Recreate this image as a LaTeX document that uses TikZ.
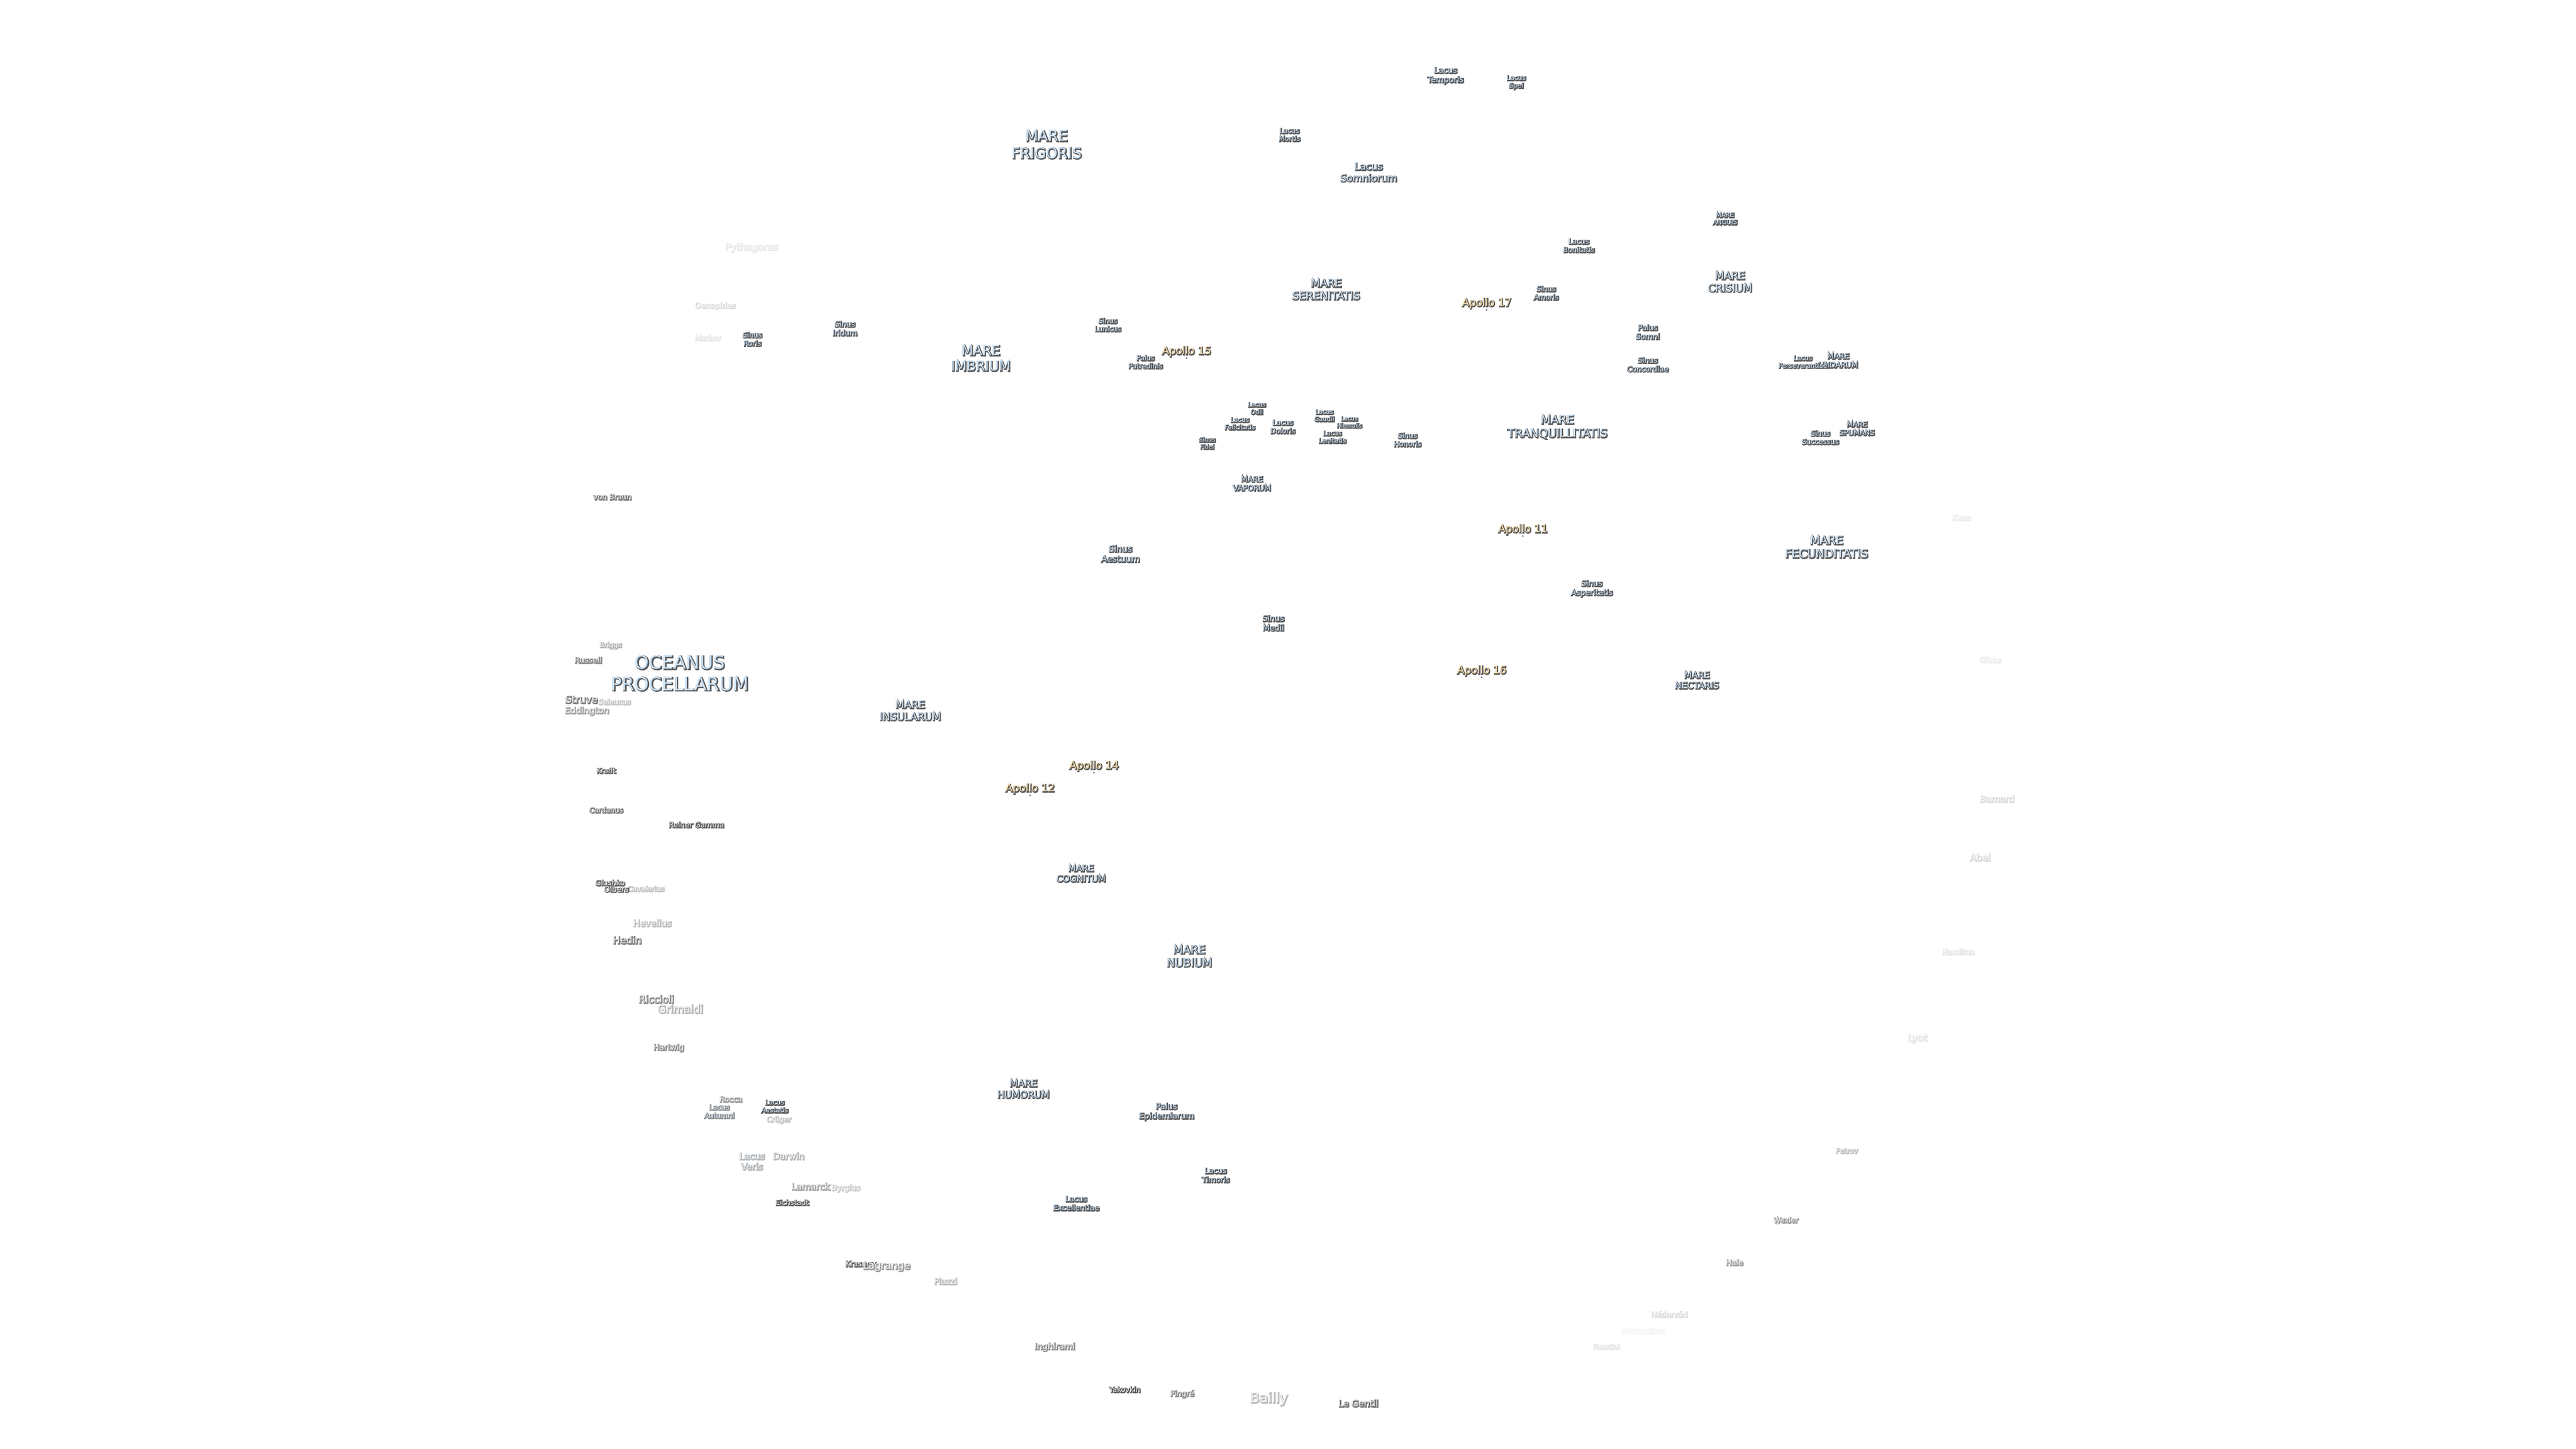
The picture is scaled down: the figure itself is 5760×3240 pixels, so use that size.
\documentclass[tikz,border=0pt]{standalone}
\usepackage{xcolor}
\definecolor{fillblue}{HTML}{CDE4FA}
\definecolor{fillamber}{HTML}{FCE0AC}
\definecolor{fillgrey}{HTML}{EAEAEA}
\definecolor{halo}{HTML}{5C5C5C}
\tikzset{
  lbshadow/.style={inner sep=0pt,align=center,xshift=.3pt,yshift=-.3pt},
  lbface/.style={inner sep=0pt,align=center},
  apollodot/.style={circle,fill=halo!80!white,inner sep=0pt,minimum size=1.1pt}
}
% \lb{fill colour}{name}{x}{y}{em px}{strength %}{text}
\newcommand{\lb}[7]{%
  \pgfmathsetmacro{\lbsize}{#5*0.25}%
  \pgfmathsetmacro{\lbleading}{#5*0.25*1.164}%
  \pgfmathsetmacro{\lbbold}{100*3.0/#5}%
  \font\lbplain="DejaVu Sans" at \lbsize pt
  \font\lbheavy="DejaVu Sans:embolden=\lbbold" at \lbsize pt
  \node[lbshadow,text={halo!#6!white},font={\lbheavy\baselineskip=\lbleading pt\relax}] (#2s) at (#3,#4) {#7};
  \node[lbface,text={#1!#6!white},font={\lbplain\baselineskip=\lbleading pt\relax}] (#2) at (#3,#4) {#7};
}
\begin{document}
\begin{tikzpicture}[x=.25pt,y=-.25pt]
\fill[white] (0,0) rectangle (5760,3240);
\useasboundingbox (0,0) rectangle (5760,3240);
% seas
\lb{fillblue}{oceanus}{1520}{1505}{41}{100}{OCEANUS\\PROCELLARUM}
\lb{fillblue}{frigoris}{2340}{323}{33}{100}{MARE\\FRIGORIS}
\lb{fillblue}{imbrium}{2193}{801}{30}{100}{MARE\\IMBRIUM}
\lb{fillblue}{serenitatis}{2965}{647}{24}{100}{MARE\\SERENITATIS}
\lb{fillblue}{tranq}{3482}{955}{26}{100}{MARE\\TRANQUILLITATIS}
\lb{fillblue}{fecund}{4084}{1223}{26}{100}{MARE\\FECUNDITATIS}
\lb{fillblue}{crisium}{3868}{630}{23.5}{100}{MARE\\CRISIUM}
\lb{fillblue}{anguis}{3857}{489}{14}{100}{MARE\\ANGUIS}
\lb{fillblue}{undarum}{4110}{806}{17}{100}{MARE\\UNDARUM}
\lb{fillblue}{spumans}{4152}{958}{16}{100}{MARE\\SPUMANS}
\lb{fillblue}{vaporum}{2799}{1081}{17}{100}{MARE\\VAPORUM}
\lb{fillblue}{nectaris}{3794}{1521}{20}{100}{MARE\\NECTARIS}
\lb{fillblue}{insularum}{2035}{1589}{23}{100}{MARE\\INSULARUM}
\lb{fillblue}{cognitum}{2417}{1953}{20}{100}{MARE\\COGNITUM}
\lb{fillblue}{nubium}{2659}{2138}{25}{100}{MARE\\NUBIUM}
\lb{fillblue}{humorum}{2288}{2435}{21.5}{100}{MARE\\HUMORUM}
% lacus, sinus, palus
\lb{fillblue}{temporis}{3232}{169}{18}{100}{Lacus\\Temporis}
\lb{fillblue}{spei}{3390}{184}{15}{100}{Lacus\\Spei}
\lb{fillblue}{mortis}{2883}{301}{15.5}{100}{Lacus\\Mortis}
\lb{fillblue}{somniorum}{3060}{385}{22}{100}{Lacus\\Somniorum}
\lb{fillblue}{bonitatis}{3530}{549}{16}{100}{Lacus\\Bonitatis}
\lb{fillblue}{amoris}{3457}{655}{16}{100}{Sinus\\Amoris}
\lb{fillblue}{somni}{3684}{742}{17}{100}{Palus\\Somni}
\lb{fillblue}{concordiae}{3684}{815}{16.5}{100}{Sinus\\Concordiae}
\lb{fillblue}{persev}{4031}{809}{14.5}{100}{Lacus\\Perseverantiae}
\lb{fillblue}{successus}{4070}{978}{16}{100}{Sinus\\Successus}
\lb{fillblue}{iridum}{1889}{734}{17}{100}{Sinus\\Iridum}
\lb{fillblue}{roris}{1682}{758}{16}{100}{Sinus\\Roris}
\lb{fillblue}{lunicus}{2477}{726}{15.5}{100}{Sinus\\Lunicus}
\lb{fillblue}{putredinis}{2561}{809}{15.5}{100}{Palus\\Putredinis}
\lb{fillblue}{odii}{2810}{913}{14}{100}{Lacus\\Odii}
\lb{fillblue}{felicitatis}{2772}{947}{14.5}{100}{Lacus\\Felicitatis}
\lb{fillblue}{doloris}{2868}{954}{16}{100}{Lacus\\Doloris}
\lb{fillblue}{gaudii}{2961}{929}{14}{100}{Lacus\\Gaudii}
\lb{fillblue}{hiemalis}{3017}{944}{13}{100}{Lacus\\Hiemalis}
\lb{fillblue}{lenitatis}{2979}{977}{14.5}{100}{Lacus\\Lenitatis}
\lb{fillblue}{fidei}{2699}{991}{13.5}{100}{Sinus\\Fidei}
\lb{fillblue}{honoris}{3147}{983}{16}{100}{Sinus\\Honoris}
\lb{fillblue}{aestuum}{2505}{1238}{19.5}{100}{Sinus\\Aestuum}
\lb{fillblue}{asperitatis}{3559}{1316}{17.5}{100}{Sinus\\Asperitatis}
\lb{fillblue}{medii}{2847}{1393}{18}{100}{Sinus\\Medii}
\lb{fillblue}{epidemiarum}{2608}{2486}{18.5}{100}{Palus\\Epidemiarum}
\lb{fillblue}{timoris}{2718}{2628}{17}{100}{Lacus\\Timoris}
\lb{fillblue}{excellentiae}{2406}{2691}{17}{100}{Lacus\\Excellentiae}
\lb{fillblue}{aestatis}{1732}{2474}{15}{100}{Lacus\\Aestatis}
\lb{fillblue}{autumni}{1608}{2485}{16}{70}{Lacus\\Autumni}
\lb{fillblue}{veris}{1681}{2597}{20}{45}{Lacus\\Veris}
% landing sites
\lb{fillamber}{apolloXV}{2653}{786}{23.5}{100}{Apollo 15}
\lb{fillamber}{apolloXVII}{3324}{678}{23.5}{100}{Apollo 17}
\lb{fillamber}{apolloXI}{3405}{1184}{23.5}{100}{Apollo 11}
\lb{fillamber}{apolloXVI}{3313}{1500}{23.5}{100}{Apollo 16}
\lb{fillamber}{apolloXIV}{2446}{1713}{23.5}{100}{Apollo 14}
\lb{fillamber}{apolloXII}{2303}{1764}{23.5}{100}{Apollo 12}
\node[apollodot] (dotXV) at (2653,801) {};
\node[apollodot] (dotXVII) at (3324,693) {};
\node[apollodot] (dotXI) at (3405,1199) {};
\node[apollodot] (dotXVI) at (3313,1515) {};
\node[apollodot] (dotXIV) at (2446,1728) {};
\node[apollodot] (dotXII) at (2303,1779) {};
% craters
\lb{fillgrey}{pythagoras}{1680}{553}{21}{15}{Pythagoras}
\lb{fillgrey}{oenopides}{1599}{684}{17}{20}{Oenopides}
\lb{fillgrey}{markov}{1582}{755}{16}{15}{Markov}
\lb{fillgrey}{vonbraun}{1369}{1111}{16.5}{80}{von Braun}
\lb{fillgrey}{kiess}{4385}{1157}{16}{11}{Kiess}
\lb{fillgrey}{gibbs}{4450}{1475}{17}{11}{Gibbs}
\lb{fillgrey}{briggs}{1365}{1443}{15.5}{45}{Briggs}
\lb{fillgrey}{russell}{1315}{1476}{17.5}{70}{Russell}
\lb{fillgrey}{seleucus}{1374}{1569}{16}{35}{Seleucus}
\lb{fillgrey}{struve}{1300}{1564}{22}{80}{Struve}
\lb{fillgrey}{eddington}{1312}{1590}{19.5}{55}{Eddington}
\lb{fillgrey}{krafft}{1355}{1723}{15.5}{90}{Krafft}
\lb{fillgrey}{cardanus}{1355}{1811}{16}{80}{Cardanus}
\lb{fillgrey}{reiner}{1557}{1844}{16.5}{100}{Reiner Gamma}
\lb{fillgrey}{barnard}{4465}{1786}{19.5}{22}{Barnard}
\lb{fillgrey}{abel}{4427}{1917}{21}{22}{Abel}
\lb{fillgrey}{hamilton}{4378}{2128}{16}{16}{Hamilton}
\lb{fillgrey}{lyot}{4287}{2322}{21}{17}{Lyot}
\lb{fillgrey}{cavalerius}{1444}{1987}{15.5}{35}{Cavalerius}
\lb{fillgrey}{glushko}{1364}{1974}{16.5}{90}{Glushko}
\lb{fillgrey}{olbers}{1378}{1988}{17}{90}{Olbers}
\lb{fillgrey}{hevelius}{1458}{2064}{20}{40}{Hevelius}
\lb{fillgrey}{hedin}{1402}{2102}{22}{80}{Hedin}
\lb{fillgrey}{grimaldi}{1521}{2256}{24}{45}{Grimaldi}
\lb{fillgrey}{riccioli}{1467}{2234}{22.5}{70}{Riccioli}
\lb{fillgrey}{hartwig}{1495}{2343}{17.5}{70}{Hartwig}
\lb{fillgrey}{rocca}{1634}{2458}{17}{60}{Rocca}
\lb{fillgrey}{cruger}{1741}{2504}{16}{35}{Crüger}
\lb{fillgrey}{darwin}{1763}{2585}{20}{45}{Darwin}
\lb{fillgrey}{byrgius}{1891}{2657}{17}{30}{Byrgius}
\lb{fillgrey}{lamarck}{1812}{2653}{20}{55}{Lamarck}
\lb{fillgrey}{eichstadt}{1771}{2689}{16}{100}{Eichstadt}
\lb{fillgrey}{krasnov}{1924}{2826}{17}{90}{Krasnov}
\lb{fillgrey}{lagrange}{1982}{2832}{22.5}{60}{Lagrange}
\lb{fillgrey}{piazzi}{2114}{2865}{18.5}{40}{Piazzi}
\lb{fillgrey}{inghirami}{2358}{3012}{19}{70}{Inghirami}
\lb{fillgrey}{yakovkin}{2515}{3107}{16}{100}{Yakovkin}
\lb{fillgrey}{pingre}{2643}{3117}{17}{70}{Pingré}
\lb{fillgrey}{bailly}{2837}{3128}{31}{45}{Bailly}
\lb{fillgrey}{legentil}{3037}{3138}{20}{85}{Le Gentil}
\lb{fillgrey}{petrov}{4129}{2573}{15.5}{40}{Petrov}
\lb{fillgrey}{wexler}{3993}{2728}{16}{60}{Wexler}
\lb{fillgrey}{hale}{3878}{2823}{17}{60}{Hale}
\lb{fillgrey}{hedervari}{3732}{2939}{16.5}{20}{Hédervári}
\lb{fillgrey}{amundsen}{3673}{2975}{18}{7}{Amundsen}
\lb{fillgrey}{faustini}{3591}{3011}{15.5}{15}{Faustini}
\end{tikzpicture}
\end{document}
